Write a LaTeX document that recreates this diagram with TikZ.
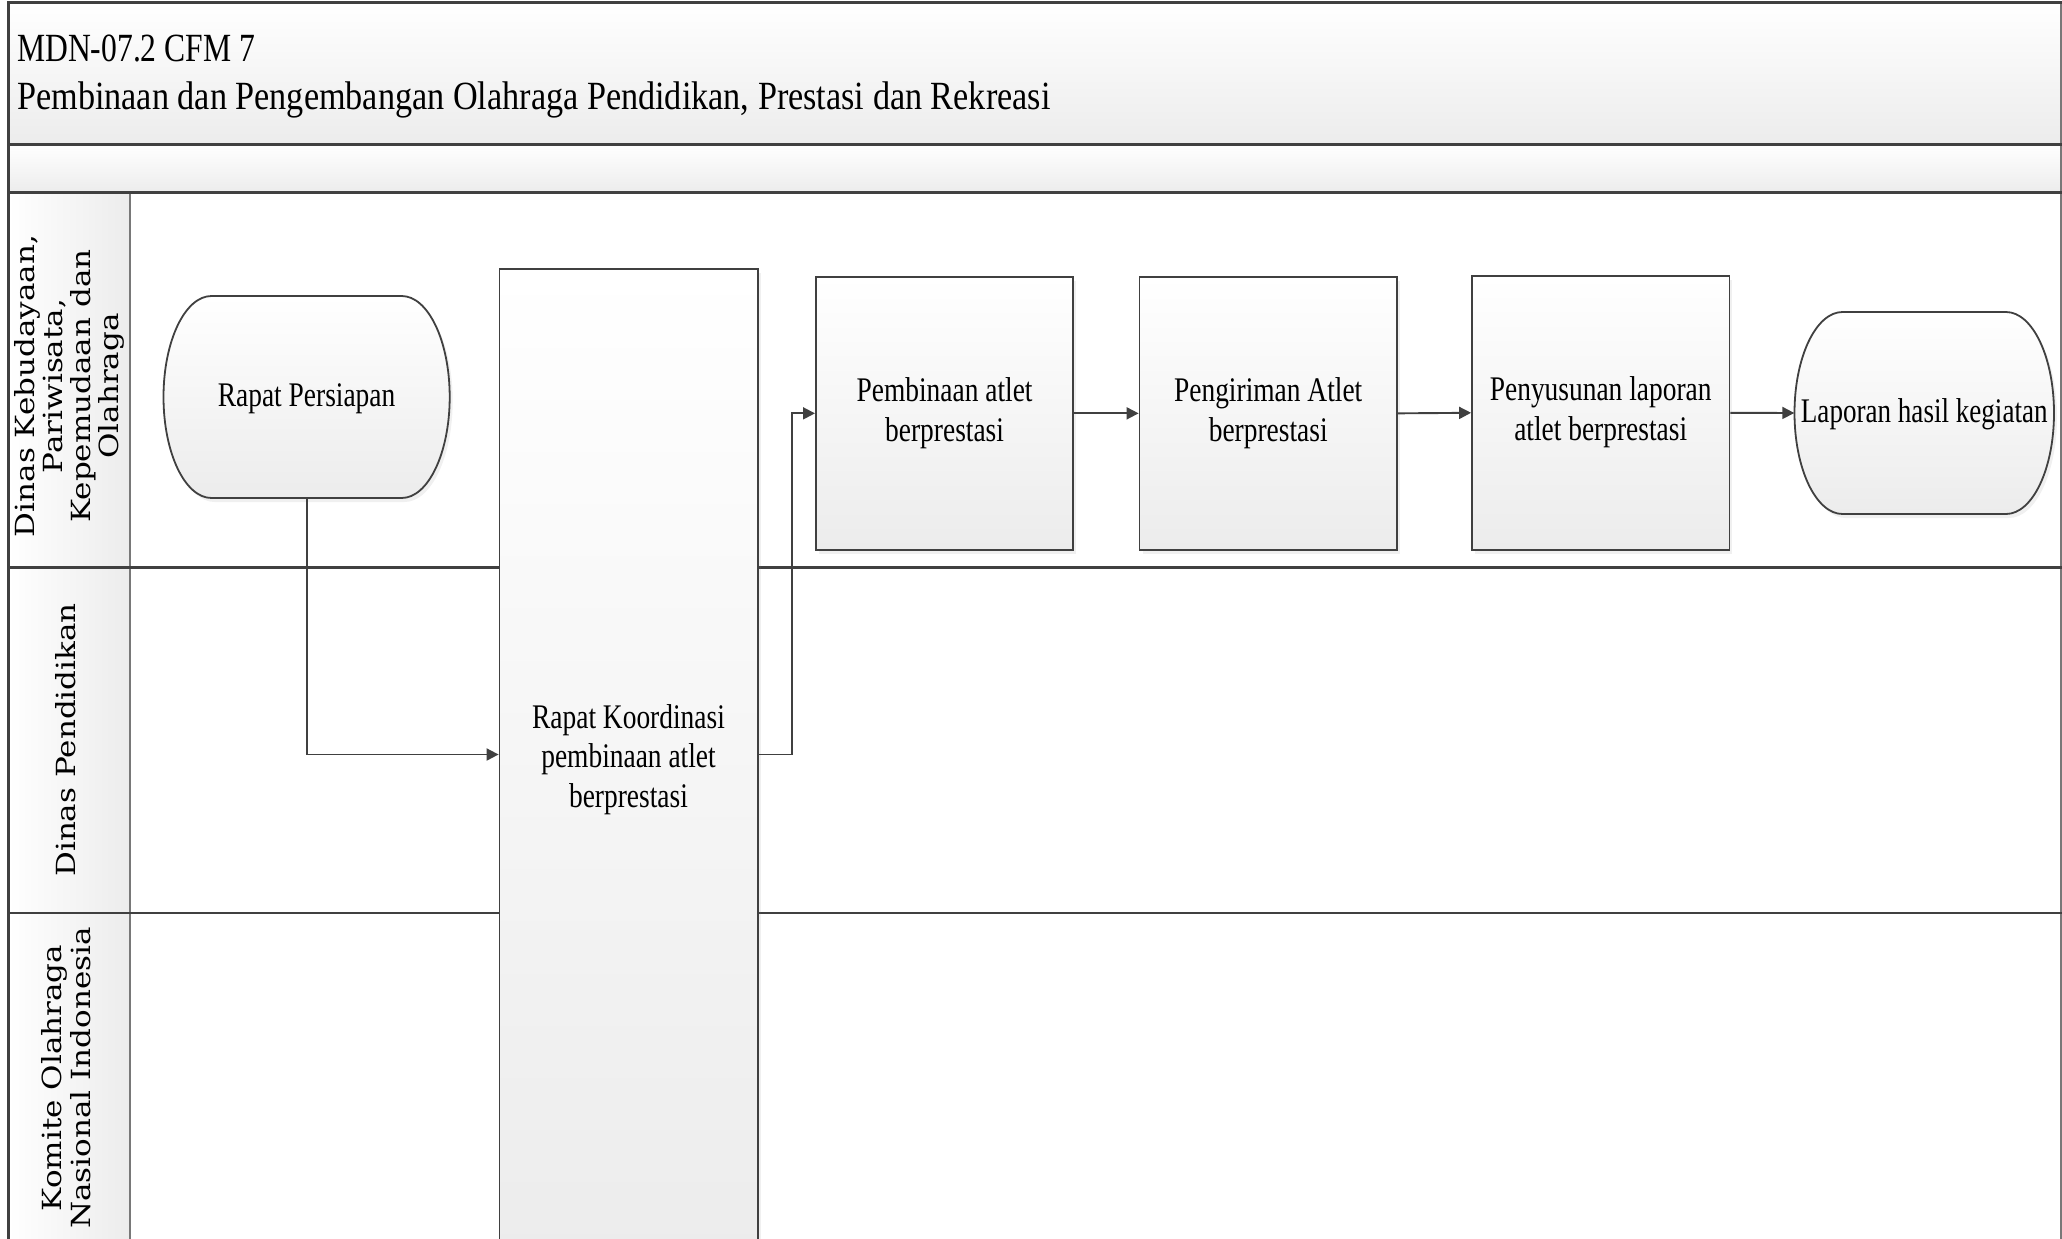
\documentclass[tikz,border=0pt]{standalone}
\usepackage{fontspec}
\setmainfont{Liberation Serif}
\newfontfamily\lanefont{DejaVu Serif}
\usetikzlibrary{arrows.meta,shadows}
\definecolor{linecol}{RGB}{64,64,64}
\definecolor{softgray}{RGB}{236,236,236}
\definecolor{edgegray}{RGB}{120,120,120}
\newcommand\hsq[2]{\scalebox{#1}[1]{\begin{tabular}{@{}c@{}}#2\end{tabular}}}
\newcommand\vsq[2]{\scalebox{1}[#1]{\begin{tabular}{@{}c@{}}#2\end{tabular}}}
\newcommand\boxfont{\fontsize{34.5}{39.5}\selectfont}
\newcommand\titlefont{\fontsize{40}{46}\selectfont}
\newcommand\lanelabfont{\lanefont\fontsize{31}{32}\selectfont}
\begin{document}
\begin{tikzpicture}[x=1pt,y=-1pt,
  band/.style={top color=white,bottom color=softgray,draw=none},
  lanehead/.style={left color=white,right color=softgray,draw=none},
  heavy/.style={draw=linecol,line width=3pt},
  sep/.style={draw=linecol,line width=2.5pt},
  thinline/.style={draw=edgegray,line width=1.5pt},
  procbox/.style={draw=linecol,line width=1.8pt,top color=white,bottom color=softgray,
    drop shadow={shadow xshift=3pt,shadow yshift=-4pt,opacity=0.12}},
  termtext/.style={draw=none,inner sep=0pt,font=\boxfont,text=black},
  boxtxt/.style={inner sep=0pt,font=\boxfont,text=black},
  lanelab/.style={rotate=90,inner sep=0pt,font=\lanelabfont,text=black},
  conn/.style={draw=linecol,line width=1.9pt,-{Triangle[length=12pt,width=12pt]}}
]
\useasboundingbox (0,0) rectangle (2062,1239);
\clip (0,0) rectangle (2062,1239);

% title bands
\path[band] (8.5,2.5) rectangle (2061,144.7);
\path[band] (8.5,144.7) rectangle (2061,192.5);
% lane headers
\path[lanehead] (8.5,192.5) rectangle (130,567.5);
\path[lanehead] (8.5,567.5) rectangle (130,913);
\path[lanehead] (8.5,913) rectangle (130,1260);

% frame lines
\draw[thinline] (2061,2.5) -- (2061,1260);
\draw[thinline] (130,192.5) -- (130,1260);
\draw[sep] (8.5,567.5) -- (2062,567.5);
\draw[sep] (8.5,913) -- (2062,913);
\draw[heavy] (8.5,144.7) -- (2062,144.7);
\draw[heavy] (8.5,192.5) -- (2062,192.5);
\draw[heavy] (7,2.5) -- (2062,2.5);
\draw[draw=linecol,line width=2.2pt] (8.5,2.5) -- (8.5,1260);

% title
\node[anchor=base west,inner sep=0pt,font=\titlefont] (title1) at (17,62) {\scalebox{0.79}[1]{MDN-07.2 CFM 7}};
\node[anchor=base west,inner sep=0pt,font=\titlefont] (title2) at (17,110) {\scalebox{0.855}[1]{Pembinaan dan Pengembangan Olahraga Pendidikan, Prestasi dan Rekreasi}};

% lane labels
\node[lanelab] (lane1) at (71,386) {\vsq{0.85}{Dinas Kebudayaan,\\Pariwisata,\\Kepemudaan dan\\Olahraga}};
\node[lanelab] (lane2) at (70,740) {\vsq{0.85}{Dinas Pendidikan}};
\node[lanelab] (lane3) at (70,1078) {\vsq{0.85}{Komite Olahraga\\Nasional Indonesia}};

% terminator shapes
\path[procbox] (211.5,296) -- (401.7,296) .. controls (428.2,296) and (449.7,341.2) .. (449.7,397)
  .. controls (449.7,452.8) and (428.2,498) .. (401.7,498) -- (211.5,498)
  .. controls (185,498) and (163.5,452.8) .. (163.5,397)
  .. controls (163.5,341.2) and (185,296) .. (211.5,296) -- cycle;
\path[procbox] (1842.5,312) -- (2006,312) .. controls (2032.5,312) and (2054,357.2) .. (2054,413)
  .. controls (2054,468.8) and (2032.5,514) .. (2006,514) -- (1842.5,514)
  .. controls (1816,514) and (1794.5,468.8) .. (1794.5,413)
  .. controls (1794.5,357.2) and (1816,312) .. (1842.5,312) -- cycle;

\node[termtext,minimum width=286pt,minimum height=202pt] (persiapan) at (306.6,398.5) {\hsq{0.795}{Rapat Persiapan}};
\node[termtext,minimum width=259.5pt,minimum height=202pt] (laporan) at (1924.25,414.5) {\hsq{0.785}{Laporan hasil kegiatan}};

% process boxes
\node[procbox,inner sep=0pt,minimum width=258.1pt,minimum height=991pt] (koord) at (628.55,764.5) {};
\node[boxtxt] (koordtxt) at (628.5,760) {\hsq{0.795}{Rapat Koordinasi\\pembinaan atlet\\berprestasi}};
\node[procbox,inner sep=0pt,minimum width=257.4pt,minimum height=273.3pt,font=\boxfont] (pembinaan) at (944.6,413.35) {\hsq{0.795}{Pembinaan atlet\\berprestasi}};
\node[procbox,inner sep=0pt,minimum width=257.4pt,minimum height=273.3pt,font=\boxfont] (pengiriman) at (1268.2,413.35) {\hsq{0.795}{Pengiriman Atlet\\berprestasi}};
\node[procbox,inner sep=0pt,minimum width=257.4pt,minimum height=273.7pt,font=\boxfont] (penyusunan) at (1600.7,412.8) {\hsq{0.795}{Penyusunan laporan\\atlet berprestasi}};

% connectors
\draw[conn] (persiapan.south |- 0,498) |- ([yshift=10pt]koord.west);
\draw[conn] ([yshift=10pt]koord.east) -- ++(33.5,0) |- (pembinaan.west);
\draw[conn] (pembinaan.east) -- (pengiriman.west);
\draw[conn] (pengiriman.east) -- (penyusunan.west);
\draw[conn] (penyusunan.east) -- (laporan.west |- 0,413);
\end{tikzpicture}
\end{document}
